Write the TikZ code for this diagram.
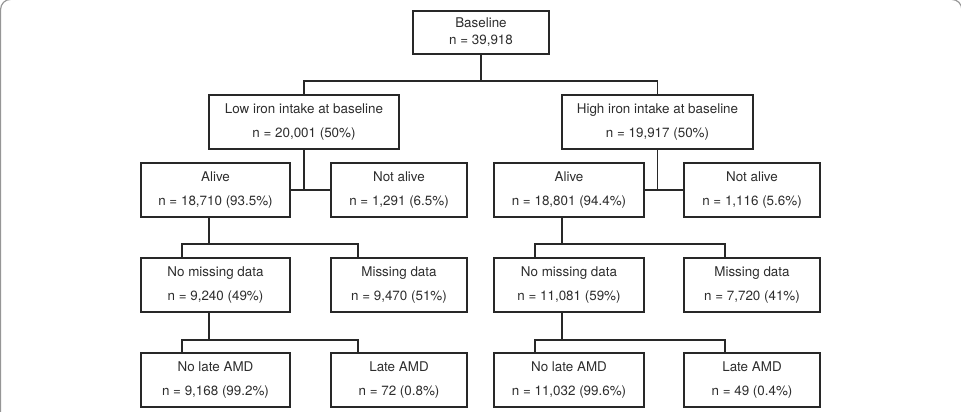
\documentclass[tikz,border=0pt]{standalone}
\usepackage{fontspec}
\setmainfont{TeX Gyre Heros}
\usepackage{xcolor}
\usetikzlibrary{positioning}
\definecolor{fline}{RGB}{40, 40, 40}
\definecolor{ftext}{RGB}{45, 45, 45}
\definecolor{fframe}{RGB}{150, 150, 150}

\begin{document}
\begin{tikzpicture}[
  x=1pt, y=-1pt,
  flowbox/.style={rectangle, draw=fline, line width=1.1pt, inner sep=0pt,
                  minimum height=54pt, align=center, text=ftext,
                  font=\fontsize{13.4}{24}\selectfont},
  topbox/.style={flowbox, minimum height=43pt,
                 font=\fontsize{13.4}{17}\selectfont},
  conn/.style={fline, line width=1.1pt}
]
\useasboundingbox (0,0) rectangle (961,412);

% Outer frame (cut at the page edge)
\begin{scope}
  \clip (0,0) rectangle (961,412);
  \draw[fframe, line width=1.2pt, rounded corners=10pt] (0.6,-0.6) rectangle (961.8,440);
\end{scope}

% Top and intake level
\node[topbox, minimum width=136pt] (base)  at (481,32.5)  {Baseline\\n = 39,918};
\node[flowbox, minimum width=190pt] (lowi)  at (304,122)   {Low iron intake at baseline\\n = 20,001 (50\%)};
\node[flowbox, minimum width=191pt] (highi) at (657.5,122) {High iron intake at baseline\\n = 19,917 (50\%)};

% Survival level
\node[flowbox, minimum width=149pt] (aliveL) at (215.5,190) {Alive\\n = 18,710 (93.5\%)};
\node[flowbox, minimum width=136pt] (deadL)  at (399,190)   {Not alive\\n = 1,291 (6.5\%)};
\node[flowbox, minimum width=150pt] (aliveR) at (569,190)   {Alive\\n = 18,801 (94.4\%)};
\node[flowbox, minimum width=136pt] (deadR)  at (752,190)   {Not alive\\n = 1,116 (5.6\%)};

% Missing data level
\node[flowbox, minimum width=149pt] (nomissL) at (215.5,285) {No missing data\\n = 9,240 (49\%)};
\node[flowbox, minimum width=136pt] (missL)   at (399,285)   {Missing data\\n = 9,470 (51\%)};
\node[flowbox, minimum width=150pt] (nomissR) at (569,285)   {No missing data\\n = 11,081 (59\%)};
\node[flowbox, minimum width=136pt] (missR)   at (752,285)   {Missing data\\n = 7,720 (41\%)};

% Outcome level
\node[flowbox, minimum width=149pt] (nolateL) at (215.5,380) {No late AMD\\n = 9,168 (99.2\%)};
\node[flowbox, minimum width=136pt] (lateL)   at (399,380)   {Late AMD\\n = 72 (0.8\%)};
\node[flowbox, minimum width=150pt] (nolateR) at (569,380)   {No late AMD\\n = 11,032 (99.6\%)};
\node[flowbox, minimum width=136pt] (lateR)   at (752,380)   {Late AMD\\n = 49 (0.4\%)};

% Junction points
\coordinate (jbase) at (481,81);
\coordinate (jaL)   at (209,244);
\coordinate (jaR)   at (562,244);
\coordinate (jmL)   at (209,340);
\coordinate (jmR)   at (562,340);
% branch ends on the bus lines
\coordinate (aL1) at (182,244);  \coordinate (aL2) at (358,244);
\coordinate (aR1) at (535,244);  \coordinate (aR2) at (725,244);
\coordinate (mL1) at (182,340);  \coordinate (mL2) at (358,340);
\coordinate (mR1) at (535,340);  \coordinate (mR2) at (725,340);

% Baseline split
\draw[conn] (base.south) -- (jbase);
\draw[conn] (lowi.north) |- (jbase) -| (highi.north);

% Alive / not alive
\draw[conn] (lowi.south) -- (lowi.south |- aliveL.east);
\draw[conn] (aliveL.east) -- (deadL.west);
\draw[conn] (highi.south) -- (highi.south |- aliveR.east);
\draw[conn] (aliveR.east) -- (deadR.west);

% Missing data split
\draw[conn] (jaL |- aliveL.south) -- (jaL);
\draw[conn] (aL1 |- nomissL.north) -- (aL1) -- (aL2) -- (aL2 |- missL.north);
\draw[conn] (jaR |- aliveR.south) -- (jaR);
\draw[conn] (aR1 |- nomissR.north) -- (aR1) -- (aR2) -- (aR2 |- missR.north);

% Late AMD split
\draw[conn] (jmL |- nomissL.south) -- (jmL);
\draw[conn] (mL1 |- nolateL.north) -- (mL1) -- (mL2) -- (mL2 |- lateL.north);
\draw[conn] (jmR |- nomissR.south) -- (jmR);
\draw[conn] (mR1 |- nolateR.north) -- (mR1) -- (mR2) -- (mR2 |- lateR.north);

\end{tikzpicture}
\end{document}
